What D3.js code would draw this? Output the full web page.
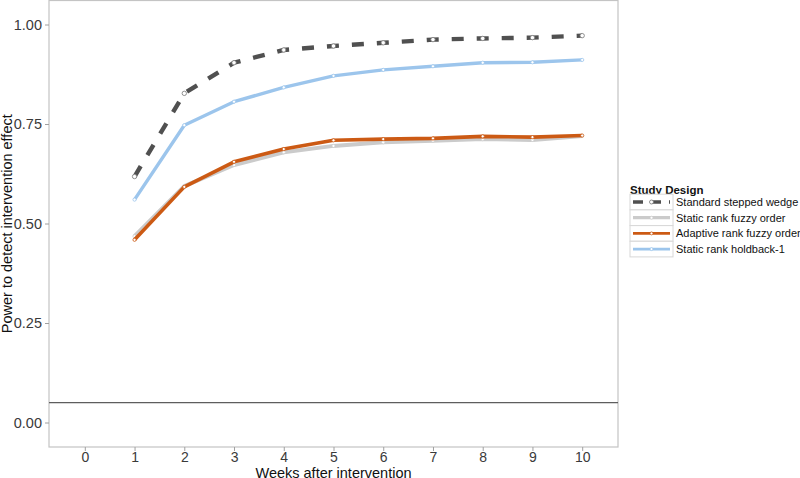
<!DOCTYPE html>
<html><head><meta charset="utf-8">
<script src="https://cdn.jsdelivr.net/npm/d3@7"></script>
<style>body{margin:0;background:#fff}svg{display:block;font-family:"Liberation Sans",Arial,sans-serif}</style>
</head><body>
<script>
const weeks = [1,2,3,4,5,6,7,8,9,10];
const xTicks = [0,1,2,3,4,5,6,7,8,9,10];
const yTicks = [0,0.25,0.5,0.75,1.0];
const seriesNames = ["Standard stepped wedge","Static rank fuzzy order","Adaptive rank fuzzy order","Static rank holdback-1"];
const standardWedge = [0.618,0.827,0.904,0.936,0.946,0.954,0.962,0.965,0.967,0.972];
const staticFuzzy   = [0.468,0.594,0.647,0.679,0.695,0.704,0.708,0.712,0.710,0.720];
const adaptiveFuzzy = [0.459,0.592,0.655,0.687,0.709,0.712,0.714,0.719,0.717,0.721];
const holdback1     = [0.560,0.747,0.806,0.842,0.871,0.886,0.895,0.904,0.905,0.911];
const refLine = 0.05;
const colors = ["#505050","#cbcbcb","#cc5a14","#9cc5ec"];
const widths = [4.4,4,3.6,3.4];
const dashes = ["12,13",null,null,null];
const allSeries = [standardWedge,staticFuzzy,adaptiveFuzzy,holdback1];

const W=800,H=478;
const svg=d3.select("body").append("svg").attr("width",W).attr("height",H);
const L=49,R=618,T=0.5,B=447;
const x=d3.scaleLinear().domain([-0.72,10.72]).range([L,R]);
const y=d3.scaleLinear().domain([0,1]).range([422.5,24.5]);

svg.append("rect").attr("x",L).attr("y",T).attr("width",R-L).attr("height",B-T)
  .attr("fill","#fff").attr("stroke","#c4c4c4").attr("stroke-width",1.2);

// axes
const ya=svg.append("g").attr("transform",`translate(${L},0)`)
  .call(d3.axisLeft(y).tickValues(yTicks).tickFormat(d3.format(".2f")).tickSize(4).tickPadding(3));
const xa=svg.append("g").attr("transform",`translate(0,${B})`)
  .call(d3.axisBottom(x).tickValues(xTicks).tickFormat(d3.format("d")).tickSize(4).tickPadding(1));
[ya,xa].forEach(g=>{
  g.select(".domain").remove();
  g.selectAll(".tick line").attr("stroke","#a0a0a0");
  g.selectAll(".tick text").attr("fill","#3a3a3a").style("font-size","14.5px");
});
xa.selectAll(".tick text").style("font-size","14px");

// reference line
svg.append("line").attr("x1",L).attr("x2",R).attr("y1",y(refLine)).attr("y2",y(refLine))
  .attr("stroke","#5e5e5e").attr("stroke-width",1.4);

const line=d3.line().x((d,i)=>x(weeks[i])).y(d=>y(d));
allSeries.forEach((s,k)=>{
  svg.append("path").datum(s).attr("d",line).attr("fill","none")
    .attr("stroke",colors[k]).attr("stroke-width",widths[k])
    .attr("stroke-dasharray",dashes[k]).attr("stroke-linejoin","round");
  svg.append("g").selectAll("circle").data(s).join("circle")
    .attr("cx",(d,i)=>x(weeks[i])).attr("cy",d=>y(d)).attr("r",k===0?2.2:1.6)
    .attr("fill","#fff").attr("stroke",k===0?"#777":colors[k]).attr("stroke-width",0.8);
});

// axis titles
svg.append("text").attr("x",(L+R)/2).attr("y",477.5).attr("text-anchor","middle")
  .style("font-size","14.5px").attr("fill","#111").text("Weeks after intervention");
svg.append("text").attr("transform",`translate(12,${(T+B)/2}) rotate(-90)`).attr("text-anchor","middle")
  .style("font-size","14.5px").attr("fill","#111").text("Power to detect intervention effect");

// legend
const lg=svg.append("g").attr("transform","translate(630,0)");
lg.append("text").attr("x",0).attr("y",193.5).style("font-size","11.5px").style("font-weight","bold")
  .attr("fill","#111").text("Study Design");
seriesNames.forEach((n,k)=>{
  const cy=202+k*15.7;
  lg.append("rect").attr("x",0).attr("y",cy-7.8).attr("width",43).attr("height",15.6)
    .attr("fill","#fff").attr("stroke","#d8d8d8").attr("stroke-width",1);
  lg.append("line").attr("x1",3).attr("x2",40).attr("y1",cy).attr("y2",cy)
    .attr("stroke",colors[k]).attr("stroke-width",widths[k]*0.8)
    .attr("stroke-dasharray",k===0?"10,8":null);
  lg.append("circle").attr("cx",21.5).attr("cy",cy).attr("r",k===0?2:1.5)
    .attr("fill","#fff").attr("stroke",k===0?"#777":colors[k]).attr("stroke-width",0.8);
  lg.append("text").attr("x",46).attr("y",cy+4).style("font-size","11px").attr("fill","#111").text(n);
});
</script>
</body></html>
